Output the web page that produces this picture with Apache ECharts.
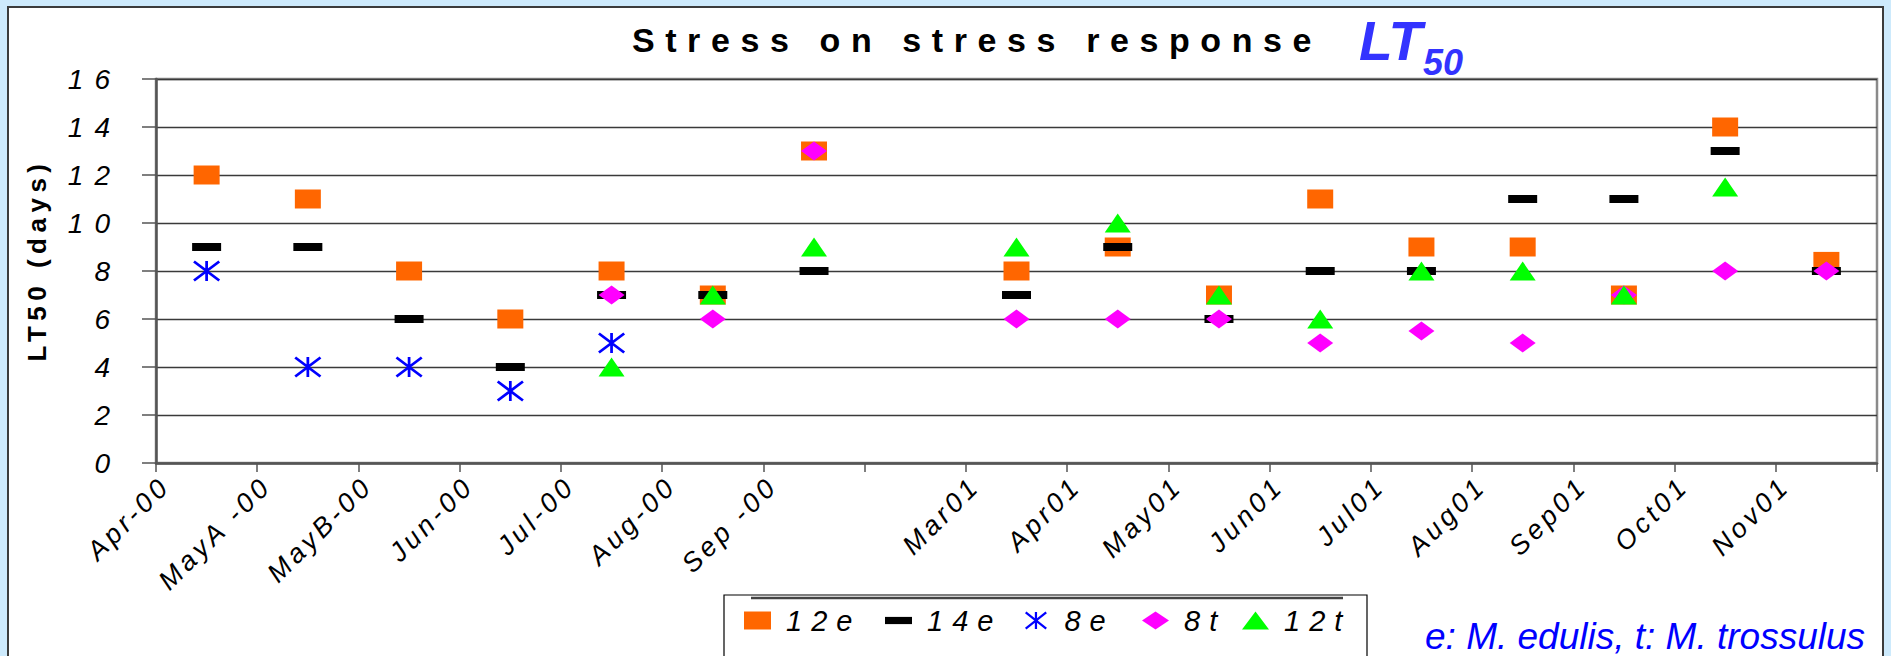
<!DOCTYPE html>
<html>
<head>
<meta charset="utf-8">
<title>Stress on stress response LT50</title>
<script src="https://cdn.jsdelivr.net/npm/echarts@6/dist/echarts.min.js"></script>
<style>
  html, body { margin: 0; padding: 0; background: #cdeafc; overflow: hidden; }
  #panel { position: absolute; left: 7px; top: 6px; width: 1877px; height: 700px; background: #fff; border: 2px solid #3b3b3b; box-sizing: border-box; }
  #chart { position: absolute; left: 0; top: 0; width: 1891px; height: 656px; }
  /* the original text is drawn with wide character spacing */
  #chart text[style*="ttl"] { letter-spacing: 10.6px; }
  #chart text[style*="ylab"] { letter-spacing: 11px; }
  #chart text[style*="xlab"] { letter-spacing: 4px; }
  #chart text[style*="lgd"] { letter-spacing: 9px; }
  #chart text[style*="ynm"] { letter-spacing: 5.5px; }
</style>
</head>
<body>
<div id="panel"></div>
<div id="chart"></div>
<script>
// sampling dates (the blank one is the winter gap)
const categories = ['Apr-00', 'MayA -00', 'MayB-00', 'Jun-00', 'Jul-00', 'Aug-00', 'Sep -00', '',
  'Mar01', 'Apr01', 'May01', 'Jun01', 'Jul01', 'Aug01', 'Sep01', 'Oct01', 'Nov01'];

// LT50 in days
const lt12e = [12, 11, 8, 6, 8, 7, 13, null, 8, 9, 7, 11, 9, 9, 7, 14, 8.4];
const lt14e = [9, 9, 6, 4, 7, 7, 8, null, 7, 9, 6, 8, 8, 11, 11, 13, 8];
const lt8e = [8, 4, 4, 3, 5, null, null, null, null, null, null, null, null, null, null, null, null];
const lt8t = [null, null, null, null, 7, 6, 13, null, 6, 6, 6, 5, 5.5, 5, 7, 8, 8];
const lt12t = [null, null, null, null, 4, 7, 9, null, 9, 10, 7, 6, 8, 8, 7, 11.5, null];

const yMin = 0, yMax = 16, yStep = 2;

const FONT = 'Liberation Sans';
const asterisk = 'path://M-1.3,-10L1.3,-10L1.3,10L-1.3,10Z' +
  'M-12.81,-8.48L-11.19,-10.52L12.81,8.48L11.19,10.52Z' +
  'M11.19,-10.52L12.81,-8.48L-11.19,10.52L-12.81,8.48Z';
const dash = 'path://M0,0H30V8H0Z';

// legend entries: name, icon, left edge of the icon box
const legendItems = [
  ['12e', 'rect', 744],
  ['14e', dash, 885],
  ['8e', asterisk, 1025],
  ['8t', 'diamond', 1142],
  ['12t', 'triangle', 1242]
];

// each category sits in the middle of its slot
const toPoints = arr => arr
  .map((v, i) => (v == null ? null : [i + 0.5, v]))
  .filter(p => p !== null);

const chart = echarts.init(document.getElementById('chart'), null, { renderer: 'svg' });

const option = {
  animation: false,
  backgroundColor: 'transparent',
  grid: {
    left: 156, right: 14, top: 79, bottom: 193,
    show: true, backgroundColor: '#fff', borderColor: '#8a8a8a', borderWidth: 2.5
  },
  xAxis: {
    type: 'value',
    min: 0,
    max: categories.length,
    interval: 1,
    axisLine: { lineStyle: { color: '#555', width: 2.5 } },
    axisTick: { length: 9, lineStyle: { color: '#555', width: 1.5 } },
    splitLine: { show: false },
    axisLabel: {
      rotate: 45,
      margin: 9,
      verticalAlign: 'top',
      fontFamily: FONT + ', xlab',
      fontSize: 27,
      fontStyle: 'italic',
      color: '#000',
      showMinLabel: true,
      showMaxLabel: true,
      formatter: v => categories[v] || ''
    }
  },
  yAxis: {
    type: 'value',
    min: yMin,
    max: yMax,
    interval: yStep,
    axisLine: { show: true, lineStyle: { color: '#555', width: 2.5 } },
    axisTick: { show: true, length: 14, lineStyle: { color: '#555', width: 1.5 } },
    splitLine: { lineStyle: { color: '#3a3a3a', width: 1.4 } },
    axisLabel: {
      margin: 35,
      fontFamily: FONT + ', ylab',
      fontSize: 28,
      fontStyle: 'italic',
      color: '#000'
    }
  },
  legend: legendItems.map(([name, icon, left]) => ({
    left: left,
    top: 606,
    padding: 0,
    itemWidth: 27,
    itemHeight: 18,
    selectedMode: false,
    textStyle: {
      fontFamily: FONT + ', lgd',
      fontSize: 29,
      fontStyle: 'italic',
      color: '#000',
      padding: [0, 0, 0, 10]
    },
    data: [{ name: name, icon: icon }]
  })),
  graphic: [
    {
      type: 'rect', z: 0,
      shape: { x: 724, y: 595, width: 643, height: 90 },
      style: { fill: '#fff', stroke: '#000', lineWidth: 1.2 }
    },
    {
      type: 'line', z: 10,
      shape: { x1: 751, y1: 598, x2: 1343, y2: 598 },
      style: { stroke: '#444', lineWidth: 2.5 }
    },
    {
      type: 'text', x: 977, y: 40, z: 10,
      style: {
        text: 'Stress on stress response', fill: '#000',
        fontFamily: FONT + ', ttl', fontSize: 34, fontWeight: 'bold',
        align: 'center', verticalAlign: 'middle'
      }
    },
    {
      type: 'text', x: 1359, y: 41, z: 10,
      style: {
        text: 'LT', fill: '#3333ff',
        fontFamily: FONT, fontSize: 55, fontWeight: 'bold', fontStyle: 'italic',
        align: 'left', verticalAlign: 'middle'
      }
    },
    {
      type: 'text', x: 1423, y: 62, z: 10,
      style: {
        text: '50', fill: '#3333ff',
        fontFamily: FONT, fontSize: 36, fontWeight: 'bold', fontStyle: 'italic',
        align: 'left', verticalAlign: 'middle'
      }
    },
    {
      type: 'text', x: 37, y: 260, rotation: Math.PI / 2, z: 10,
      style: {
        text: 'LT50 (days)', fill: '#000',
        fontFamily: FONT + ', ynm', fontSize: 26, fontWeight: 'bold',
        align: 'center', verticalAlign: 'middle'
      }
    },
    {
      type: 'text', x: 1425, y: 636, z: 10,
      style: {
        text: 'e: M. edulis, t: M. trossulus', fill: '#0000ff',
        fontFamily: FONT, fontSize: 37, fontStyle: 'italic',
        align: 'left', verticalAlign: 'middle'
      }
    }
  ],
  series: [
    {
      name: '12e', type: 'scatter', data: toPoints(lt12e),
      symbol: 'rect', symbolSize: [26, 19], itemStyle: { color: '#ff6600', opacity: 1 }
    },
    {
      name: '14e', type: 'scatter', data: toPoints(lt14e),
      symbol: 'rect', symbolSize: [29, 8], itemStyle: { color: '#000', opacity: 1 }
    },
    {
      name: '8e', type: 'scatter', data: toPoints(lt8e),
      symbol: asterisk, symbolSize: [27, 21], itemStyle: { color: '#0000ff', opacity: 1 }
    },
    {
      name: '8t', type: 'scatter', data: toPoints(lt8t),
      symbol: 'diamond', symbolSize: [26, 19], itemStyle: { color: '#ff00ff', opacity: 1 }
    },
    {
      name: '12t', type: 'scatter', data: toPoints(lt12t),
      symbol: 'triangle', symbolSize: [26, 19], itemStyle: { color: '#00ff00', opacity: 1 }
    }
  ]
};

chart.setOption(option);
</script>
</body>
</html>
